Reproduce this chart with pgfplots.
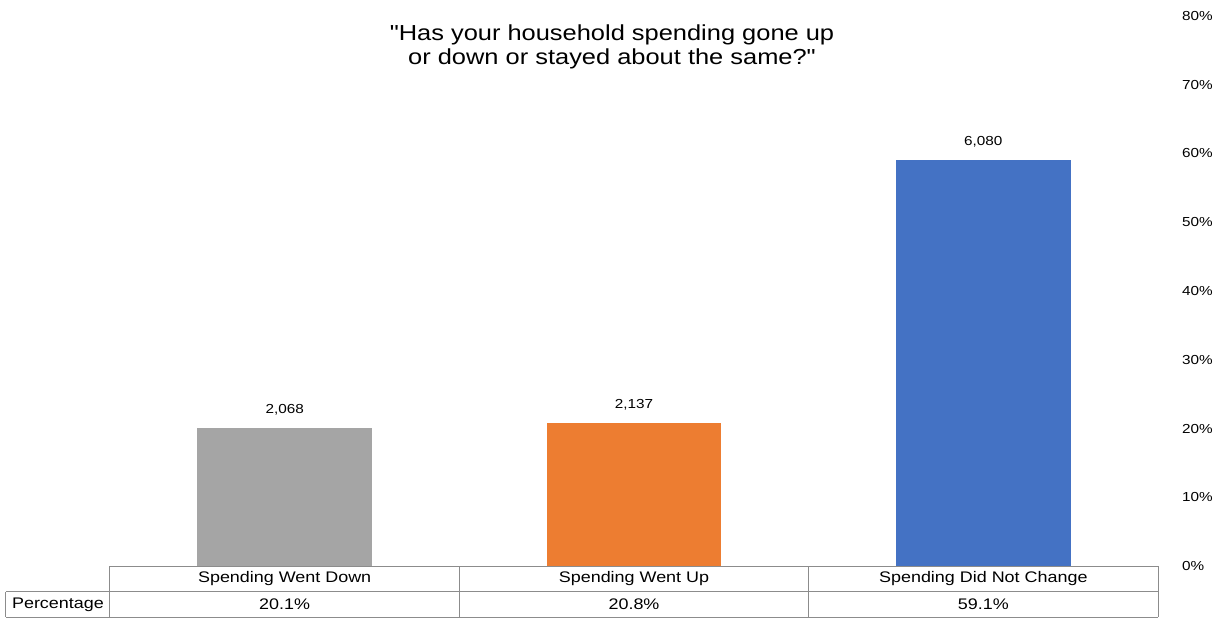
\documentclass[border=0pt]{standalone}
\usepackage{fontspec}
\setmainfont{Liberation Sans}[FakeStretch=1.17, Ligatures=TeXOff]
\usepackage{pgfplots}
\pgfplotsset{compat=1.18}
\definecolor{cgray}{HTML}{A5A5A5}
\definecolor{corange}{HTML}{ED7D31}
\definecolor{cblue}{HTML}{4472C4}
\definecolor{tline}{RGB}{140,140,140}
\begin{document}
\begin{tikzpicture}
\path[use as bounding box] (-82.5pt,-39.75pt) rectangle (833.25pt,424.5pt);
\begin{axis}[
  at={(0pt,0pt)}, anchor=south west,
  scale only axis, width=786pt, height=412.5pt,
  xmin=-0.5, xmax=2.5, ymin=0, ymax=80,
  axis line style={draw=none}, major tick length=0pt,
  xtick=\empty, ytick={0,10,...,80},
  yticklabel pos=right,
  yticklabel={\pgfmathprintnumber{\tick}\%},
  yticklabel style={anchor=west, xshift=14.5pt},
  tick label style={font=\fontsize{9.8}{12}\selectfont},
  /pgf/number format/assume math mode=true,
  ybar, bar width=0.5, clip=false,
  nodes near coords, point meta=explicit symbolic,
  every node near coord/.append style={anchor=center, yshift=13.5pt, font=\fontsize{9.8}{12}\selectfont, text=black},
]
\addplot[fill=cgray, draw=none, bar shift=0pt] table[meta=lab] {
x y lab
0 20.1 {2,068}
};
\addplot[fill=corange, draw=none, bar shift=0pt] table[meta=lab] {
x y lab
1 20.8 {2,137}
};
\addplot[fill=cblue, draw=none, bar shift=0pt] table[meta=lab] {
x y lab
2 59.1 {6,080}
};
% data table
\draw[tline, line width=0.75pt] (axis cs:-0.5,0) -- (axis cs:2.5,0);
\draw[tline, line width=0.75pt] (axis cs:-0.798,-3.78) -- (axis cs:2.5,-3.78);
\draw[tline, line width=0.75pt] (axis cs:-0.798,-7.42) -- (axis cs:2.5,-7.42);
\draw[tline, line width=0.75pt] (axis cs:-0.798,-3.78) -- (axis cs:-0.798,-7.42);
\draw[tline, line width=0.75pt] (axis cs:-0.5,0) -- (axis cs:-0.5,-7.42);
\draw[tline, line width=0.75pt] (axis cs:0.5,0) -- (axis cs:0.5,-7.42);
\draw[tline, line width=0.75pt] (axis cs:1.5,0) -- (axis cs:1.5,-7.42);
\draw[tline, line width=0.75pt] (axis cs:2.5,0) -- (axis cs:2.5,-7.42);
\node[font=\fontsize{11.5}{13}\selectfont] at (axis cs:0,-1.89) {Spending Went Down};
\node[font=\fontsize{11.5}{13}\selectfont] at (axis cs:1,-1.89) {Spending Went Up};
\node[font=\fontsize{11.5}{13}\selectfont] at (axis cs:2,-1.89) {Spending Did Not Change};
\node[font=\fontsize{11.5}{13}\selectfont] at (axis cs:-0.649,-5.6) {Percentage};
\node[font=\fontsize{11.5}{13}\selectfont] at (axis cs:0,-5.6) {20.1\%};
\node[font=\fontsize{11.5}{13}\selectfont] at (axis cs:1,-5.6) {20.8\%};
\node[font=\fontsize{11.5}{13}\selectfont] at (axis cs:2,-5.6) {59.1\%};
\end{axis}
\node[align=center, font=\fontsize{16.3}{18}\selectfont] at (376.5pt,389pt)
  {"Has your household spending gone up\\or down or stayed about the same?"};
\end{tikzpicture}
\end{document}
